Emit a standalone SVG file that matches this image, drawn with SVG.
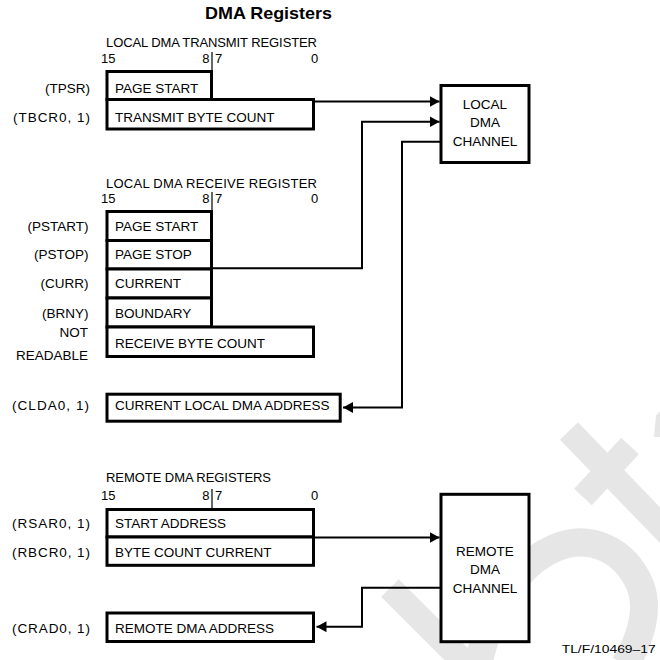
<svg xmlns="http://www.w3.org/2000/svg" width="660" height="660" viewBox="0 0 660 660">
<defs>
<style>
.t{font-family:"Liberation Sans",Arial,sans-serif;font-size:13.5px;fill:#000}
.h{font-family:"Liberation Sans",Arial,sans-serif;font-size:13px;fill:#000}
.lab{font-family:"Liberation Sans",Arial,sans-serif;font-size:13.5px;fill:#000;text-anchor:end}
.c{font-family:"Liberation Sans",Arial,sans-serif;font-size:13.5px;fill:#000;text-anchor:middle}
.box{fill:#fff;stroke:#000;stroke-width:3}
.tick{stroke:#000;stroke-width:1.2}
.wire{fill:none;stroke:#000;stroke-width:2}
.wm{fill:none;stroke:#e6e6e6;stroke-linecap:butt}
</style>
<marker id="ah" markerWidth="11" markerHeight="11" refX="10" refY="5.5" orient="auto" markerUnits="userSpaceOnUse"><path d="M0,0 L10,5.5 L0,11 z" fill="#000"/></marker>
</defs>
<rect width="660" height="660" fill="#fff"/>
<g id="watermark">
<line class="wm" x1="390" y1="588" x2="482" y2="680" stroke-width="25"/>
<path class="wm" d="M478,665 C490,610 515,565 555,548 C590,533 625,550 640,585 C650,610 640,640 625,665" stroke-width="28"/>
<line class="wm" x1="569" y1="431" x2="685" y2="551" stroke-width="25"/>
<line class="wm" x1="583" y1="497" x2="630" y2="446" stroke-width="24"/>
<polygon points="654,437 656,415 660,412 660,437" fill="#e6e6e6"/>
</g>
<text x="205" y="18.5" font-family="Liberation Sans,Arial,sans-serif" font-weight="bold" font-size="17" textLength="127" lengthAdjust="spacingAndGlyphs">DMA Registers</text>

<g id="transmit-register">
<text class="h" x="106" y="46.5" textLength="211">LOCAL DMA TRANSMIT REGISTER</text>
<text class="h" x="101" y="63">15</text>
<text class="h" x="209.5" y="63" text-anchor="end">8</text>
<text class="h" x="215" y="63">7</text>
<text class="h" x="314.5" y="63" text-anchor="middle">0</text>
<line class="tick" x1="212" y1="52" x2="212" y2="71"/>
<g id="tpsr">
<rect class="box" x="107" y="71.5" width="104.5" height="28"/>
<text class="lab" x="90" y="92.7">(TPSR)</text>
<text class="t" x="115" y="92.7">PAGE START</text>
</g>
<g id="tbcr">
<rect class="box" x="107" y="99.5" width="206.5" height="29.5"/>
<text class="lab" x="90" y="122.3" textLength="77">(TBCR0, 1)</text>
<text class="t" x="115" y="122.3">TRANSMIT BYTE COUNT</text>
</g>
</g>

<g id="receive-register">
<text class="h" x="106" y="188" textLength="211">LOCAL DMA RECEIVE REGISTER</text>
<text class="h" x="101" y="202.5">15</text>
<text class="h" x="209.5" y="202.5" text-anchor="end">8</text>
<text class="h" x="215" y="202.5">7</text>
<text class="h" x="314.5" y="202.5" text-anchor="middle">0</text>
<line class="tick" x1="212" y1="192" x2="212" y2="211"/>
<g id="pstart">
<rect class="box" x="107" y="211.5" width="104.5" height="29"/>
<text class="lab" x="88.5" y="230.7">(PSTART)</text>
<text class="t" x="115" y="230.7">PAGE START</text>
</g>
<g id="pstop">
<rect class="box" x="107" y="240.5" width="104.5" height="28.5"/>
<text class="lab" x="88.5" y="259.3">(PSTOP)</text>
<text class="t" x="115" y="259.3">PAGE STOP</text>
</g>
<g id="curr">
<rect class="box" x="107" y="269" width="104.5" height="29"/>
<text class="lab" x="88.5" y="288.3">(CURR)</text>
<text class="t" x="115" y="288.3">CURRENT</text>
</g>
<g id="brny">
<rect class="box" x="107" y="298" width="104.5" height="29"/>
<text class="lab" x="88.5" y="318.3">(BRNY)</text>
<text class="t" x="115" y="318.3">BOUNDARY</text>
</g>
<g id="rbc">
<rect class="box" x="107" y="327" width="206.5" height="29.5"/>
<text class="lab" x="88" y="336.7">NOT</text>
<text class="lab" x="88" y="360">READABLE</text>
<text class="t" x="115" y="348.3">RECEIVE BYTE COUNT</text>
</g>
</g>

<g id="clda">
<rect class="box" x="107" y="394.2" width="233.2" height="27"/>
<text class="lab" x="89" y="410" textLength="77">(CLDA0, 1)</text>
<text class="t" x="115" y="410">CURRENT LOCAL DMA ADDRESS</text>
</g>

<g id="remote-registers">
<text class="h" x="106" y="481.5" textLength="165">REMOTE DMA REGISTERS</text>
<text class="h" x="101" y="499.5">15</text>
<text class="h" x="209.5" y="499.5" text-anchor="end">8</text>
<text class="h" x="215" y="499.5">7</text>
<text class="h" x="314.5" y="499.5" text-anchor="middle">0</text>
<line class="tick" x1="212" y1="489" x2="212" y2="508"/>
<g id="rsar">
<rect class="box" x="107" y="509.5" width="206.5" height="27.5"/>
<text class="lab" x="90" y="528.3" textLength="78">(RSAR0, 1)</text>
<text class="t" x="115" y="528.3">START ADDRESS</text>
</g>
<g id="rbcr">
<rect class="box" x="107" y="537" width="206.5" height="28.3"/>
<text class="lab" x="90" y="557.3" textLength="78">(RBCR0, 1)</text>
<text class="t" x="115" y="557.3">BYTE COUNT CURRENT</text>
</g>
</g>

<g id="crad">
<rect class="box" x="107" y="613" width="206.5" height="28.5"/>
<text class="lab" x="90" y="633.3" textLength="78">(CRAD0, 1)</text>
<text class="t" x="115" y="633.3">REMOTE DMA ADDRESS</text>
</g>

<g id="local-dma-channel">
<rect class="box" x="441" y="85.5" width="88" height="77"/>
<text class="c" x="485" y="108.5">LOCAL</text>
<text class="c" x="485" y="127">DMA</text>
<text class="c" x="485" y="145.5">CHANNEL</text>
</g>

<g id="remote-dma-channel">
<rect class="box" x="441" y="494.3" width="88" height="147.4"/>
<text class="c" x="485" y="556">REMOTE</text>
<text class="c" x="485" y="574.3">DMA</text>
<text class="c" x="485" y="592.7">CHANNEL</text>
</g>

<g id="connectors">
<path class="wire" d="M313.5,101.5 H439.5" marker-end="url(#ah)"/>
<path class="wire" d="M211.5,268.3 H362 V121.7 H439.5" marker-end="url(#ah)"/>
<path class="wire" d="M441,141.7 H402 V407.5 H343" marker-end="url(#ah)"/>
<path class="wire" d="M313.5,537.5 H439.5" marker-end="url(#ah)"/>
<path class="wire" d="M441,587.8 H362 V626.7 H316.5" marker-end="url(#ah)"/>
</g>

<text x="561.7" y="653.3" font-family="Liberation Sans,Arial,sans-serif" font-size="11.5" textLength="94" lengthAdjust="spacingAndGlyphs">TL/F/10469–17</text>
</svg>
